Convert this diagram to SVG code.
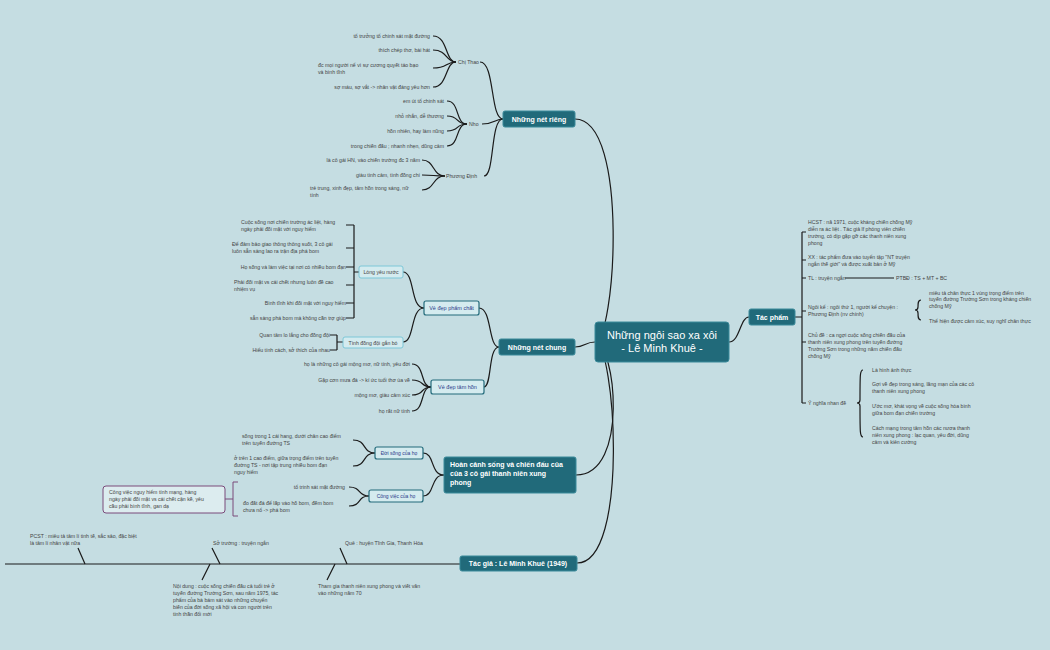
<svg xmlns="http://www.w3.org/2000/svg" width="1050" height="650" viewBox="0 0 1050 650">
<style>
text{font-family:"Liberation Sans",Arial,sans-serif;fill:#444;font-size:5.2px}
.r{text-anchor:end}
.m{text-anchor:middle}
.main{fill:#216a7a;stroke:#3b8a9a;stroke-width:1}
.mt{fill:#fff;font-weight:bold;font-size:7px}
.sub{fill:#d4ebef;stroke:#236b7b;stroke-width:1.2}
.subl{fill:#d4ebef;stroke:#7cc7d8;stroke-width:1}
.st{fill:#2b3a8a;font-size:5.5px}
.c path,.c line{fill:none;stroke:#1a1a1a;stroke-width:1.2}
</style>
<rect width="1050" height="650" fill="#c5dde2"/>
<g class="c">
<path d="M575,119 C630,119 615,342 595,342"/>
<path d="M575,347 C585,347 585,342 595,342"/>
<path d="M576,475 C630,475 615,342 595,342"/>
<path d="M577,563 C630,563 615,342 595,342"/>
<path d="M729,342 C740,342 740,317 749,317"/>
<path d="M503,119 C490,119 495,62 480,62"/><path d="M503,119 C495,119 495,124 482,124"/><path d="M503,119 C490,119 495,176 484,176"/>
<path d="M456,62 C445,62 448,36 433,36"/><path d="M456,62 C445,62 448,50 433,50"/><path d="M456,62 C445,62 448,68 433,68"/><path d="M456,62 C445,62 448,87 433,87"/>
<path d="M467,124 C455,124 460,101 447,101"/><path d="M467,124 C455,124 460,116 447,116"/><path d="M467,124 C455,124 460,131 447,131"/><path d="M467,124 C455,124 460,146 447,146"/>
<path d="M445,176 C432,176 435,160 422,160"/><path d="M445,176 C432,176 435,175 422,175"/><path d="M445,176 C432,176 435,190 422,190"/>
<path d="M499,347 C488,347 492,308 479,308"/><path d="M499,347 C488,347 492,387 484,387"/>
<path d="M424,308 C410,308 415,272 403,272"/><path d="M424,308 C410,308 415,342 403,342"/>
<path d="M359,272 L354,272 M354,225 L354,318 M346,225 L354,225 M346,248 L354,248 M346,267 L354,267 M346,285 L354,285 M346,303 L354,303 M346,318 L354,318"/>
<path d="M343,342 L337,342 M337,335 L337,350 M330,335 L337,335 M330,350 L337,350"/>
<path d="M431,387 C420,387 425,364 412,364"/><path d="M431,387 C420,387 425,380 412,380"/><path d="M431,387 C420,387 425,395 412,395"/><path d="M431,387 C420,387 425,411 412,411"/>
<path d="M444,475 C430,475 435,453 423,453"/><path d="M444,475 C430,475 435,496 423,496"/>
<path d="M375,453 C362,453 367,440 353,440"/><path d="M375,453 C362,453 367,466 353,466"/>
<path d="M369,496 C357,496 362,487 349,487"/><path d="M369,496 C357,496 362,506 349,506"/>
<path d="M5,564 L460,564"/>
<path d="M78,548 L85,564 M212,548 L220,564 M340,548 L347,564 M210,564 L202,580 M335,564 L327,580"/>
<path d="M795,317 L802,317 M802,232 L802,403 M802,232 L806,232 M802,260 L806,260 M802,278 L806,278 M802,311 L806,311 M802,342 L806,342 M802,403 L806,403"/>
<path d="M845,278 L894,278"/>
<path d="M921,300 C918,300 918,303 918,307 C918,310 916,310 915,310 C916,310 918,310 918,313 C918,317 918,320 921,320"/>
<path d="M863,370 C860,370 860,374 860,400 C860,403 858,403 857,403 C858,403 860,403 860,406 C860,433 860,437 863,437"/>
</g>
<path d="M238,482 L233,482 L233,516 L238,516 M233,499 L225,499" fill="none" stroke="#7a4a7a" stroke-width="1"/>
<g id="center"><rect x="595" y="322" width="134" height="40" rx="3" class="main"/><text x="662" y="339" class="m" style="fill:#fff;font-size:11px">Những ngôi sao xa xôi</text><text x="662" y="352" class="m" style="fill:#fff;font-size:11px">- Lê Minh Khuê -</text></g>
<g id="n-rieng"><rect x="503" y="111" width="72" height="16" rx="2" class="main"/><text x="539" y="121.5" class="m mt">Những nét riêng</text></g>
<g id="n-chung"><rect x="499" y="339" width="76" height="16" rx="2" class="main"/><text x="537" y="349.5" class="m mt">Những nét chung</text></g>
<g id="n-hoancanh"><rect x="444" y="457" width="132" height="36" rx="2" class="main"/><text x="450" y="467" class="mt">Hoàn cảnh sống và chiến đấu của</text><text x="450" y="476" class="mt">của 3 cô gái thanh niên xung</text><text x="450" y="485" class="mt">phong</text></g>
<g id="n-tacgia"><rect x="460" y="556" width="117" height="15" rx="2" class="main"/><text x="518" y="566" class="m mt">Tác giả : Lê Minh Khuê (1949)</text></g>
<g id="n-tacpham"><rect x="749" y="309" width="46" height="16" rx="2" class="main"/><text x="772" y="319.5" class="m mt">Tác phẩm</text></g>
<g id="chithao"><text x="458" y="64">Chị Thao</text>
<text x="430" y="38" class="r">tổ trưởng tổ chinh sát mặt đường</text><text x="430" y="52" class="r">thích chép thơ, bài hát</text><text x="318" y="67">đc mọi người nể vì sự cương quyết táo bạo</text><text x="318" y="74">và bình tĩnh</text><text x="430" y="89" class="r">sợ máu, sợ vắt -&gt; nhân vật đáng yêu hơn</text></g>
<g id="nho"><text x="469" y="126">Nho</text>
<text x="444" y="103" class="r">em út tổ chinh sát</text><text x="444" y="118" class="r">nhỏ nhắn, dễ thương</text><text x="444" y="133" class="r">hồn nhiên, hay làm nũng</text><text x="444" y="148" class="r">trong chiến đấu ; nhanh nhẹn, dũng cảm</text></g>
<g id="phuongdinh"><text x="446" y="178">Phương Định</text>
<text x="420" y="162" class="r">là cô gái HN, vào chiến trường đc 3 năm</text><text x="420" y="177" class="r">giàu tình cảm, tình đồng chí</text><text x="310" y="190">trẻ trung, xinh đẹp, tâm hồn trong sáng, nữ</text><text x="310" y="197">tính</text></g>
<g id="vedeppc"><rect x="424" y="301" width="55" height="14" rx="2" class="sub"/><text x="451.5" y="310" class="m st">Vẻ đẹp phẩm chất</text></g>
<g id="longyeunuoc"><rect x="359" y="266" width="44" height="12" rx="2" class="subl"/><text x="381" y="274" class="m">Lòng yêu nước</text>
<text x="241" y="224">Cuộc sống nơi chiến trường ác liệt, hàng</text><text x="241" y="231">ngày phải đối mặt với nguy hiểm</text>
<text x="232" y="246">Để đảm bảo giao thông thông suốt, 3 cô gái</text><text x="232" y="253">luôn sẵn sàng lao ra trận địa phá bom</text>
<text x="346" y="269" class="r">Họ sống và làm việc tại nơi có nhiều bom đạn</text>
<text x="234" y="284">Phải đối mặt vs cái chết nhưng luôn đề cao</text><text x="234" y="291">nhiệm vụ</text>
<text x="346" y="305" class="r">Bình tĩnh khi đối mặt với nguy hiểm</text><text x="346" y="320" class="r">sẵn sàng phá bom mà không cần trợ giúp</text></g>
<g id="tinhdongdoi"><rect x="343" y="337" width="60" height="11" rx="2" class="subl"/><text x="373" y="344.5" class="m">Tình đồng đội gắn bó</text>
<text x="330" y="337" class="r">Quan tâm lo lắng cho đồng đội</text><text x="330" y="352" class="r">Hiểu tính cách, sở thích của nhau</text></g>
<g id="vedepth"><rect x="431" y="380" width="53" height="14" rx="2" class="sub"/><text x="457.5" y="389" class="m st">Vẻ đẹp tâm hồn</text>
<text x="410" y="366" class="r">họ là những cô gái mộng mơ, nữ tính, yêu đời</text><text x="410" y="382" class="r">Gặp cơn mưa đá -&gt; kí ức tuổi thơ ùa về</text><text x="410" y="397" class="r">mộng mơ, giàu cảm xúc</text><text x="410" y="413" class="r">họ rất nữ tính</text></g>
<g id="doisong"><rect x="375" y="447" width="48" height="12" rx="2" class="sub"/><text x="399" y="455" class="m st" style="font-size:5px">Đời sống của họ</text>
<text x="242" y="438">sống trong 1 cái hang, dưới chân cao điểm</text><text x="242" y="445">trên tuyến đường TS</text>
<text x="234" y="460">ở trên 1 cao điểm, giữa trọng điểm trên tuyến</text><text x="234" y="467">đường TS - nơi tập trung nhiều bom đạn</text><text x="234" y="474">nguy hiểm</text></g>
<g id="congviec"><rect x="369" y="490" width="54" height="12" rx="2" class="sub"/><text x="396" y="498" class="m st" style="font-size:5px">Công việc của họ</text>
<text x="345" y="489" class="r">tổ trinh sát mặt đường</text><text x="243" y="505">đo đất đá để lấp vào hố bom, đếm bom</text><text x="243" y="512">chưa nổ -&gt; phá bom</text></g>
<g id="congviecnote"><rect x="103" y="486" width="122" height="27" rx="3" fill="#dcecef" stroke="#7a4a7a" stroke-width="1"/><text x="109" y="494">Công việc nguy hiểm tính mạng, hàng</text><text x="109" y="501">ngày phải đối mặt vs cái chết cận kề, yêu</text><text x="109" y="508">cầu phải bình tĩnh, gan dạ</text></g>
<g id="tacgia-items"><text x="30" y="538">PCST : miêu tả tâm lí tinh tế, sắc sảo, đặc biệt</text><text x="30" y="545">là tâm lí nhân vật nữa</text>
<text x="213" y="545">Sở trường : truyện ngắn</text><text x="345" y="545">Quê : huyện Tĩnh Gia, Thanh Hóa</text>
<text x="173" y="588">Nội dung : cuộc sống chiến đấu cả tuổi trẻ ở</text><text x="173" y="595">tuyến đường Trường Sơn, sau năm 1975, tác</text><text x="173" y="602">phẩm của bà bám sát vào những chuyển</text><text x="173" y="609">biến của đời sống xã hội và con người trên</text><text x="173" y="616">tinh thần đổi mới</text>
<text x="318" y="588">Tham gia thanh niên xung phong và viết văn</text><text x="318" y="595">vào những năm 70</text></g>
<g id="tacpham-items">
<text x="808" y="224">HCST : nă 1971, cuộc kháng chiến chống Mỹ</text><text x="808" y="231">diễn ra ác liệt . Tác giả lf phóng viên chiến</text><text x="808" y="238">trường, có dịp gặp gỡ các thanh niên xung</text><text x="808" y="245">phong</text>
<text x="808" y="259">XX : tác phẩm đưa vào tuyển tập "NT truyện</text><text x="808" y="266">ngắn thế giới" và được xuất bản ở Mỹ</text>
<text x="808" y="280">TL : truyện ngắn</text><text x="896" y="280">PTBĐ : TS + MT + BC</text>
<text x="808" y="309">Ngôi kể : ngôi thứ 1, người kể chuyện :</text><text x="808" y="316">Phương Định (nv chính)</text>
<text x="929" y="295">miêu tả chân thực 1 vùng trọng điểm trên</text><text x="929" y="301">tuyến đường Trường Sơn trong kháng chiến</text><text x="929" y="308">chống Mỹ</text><text x="929" y="323">Thể hiện được cảm xúc, suy nghĩ chân thực</text>
<text x="808" y="337">Chủ đề : ca ngợi cuộc sống chiến đấu của</text><text x="808" y="344">thanh niên xung phong trên tuyến đường</text><text x="808" y="351">Trường Sơn trong những năm chiến đấu</text><text x="808" y="358">chống Mỹ</text>
<text x="808" y="405">Ý nghĩa nhan đề</text>
<text x="872" y="372">Là hình ảnh thực</text><text x="872" y="386">Gợi về đẹp trong sáng, lãng mạn của các cô</text><text x="872" y="393">thanh niên xung phong</text><text x="872" y="408">Ước mơ, khát vọng về cuộc sống hòa bình</text><text x="872" y="415">giữa bom đạn chiến trường</text><text x="872" y="430">Cách mạng trong tâm hồn các nươa thanh</text><text x="872" y="437">niên xung phong : lạc quan, yêu đời, dũng</text><text x="872" y="444">cảm và kiên cường</text></g>
</svg>
